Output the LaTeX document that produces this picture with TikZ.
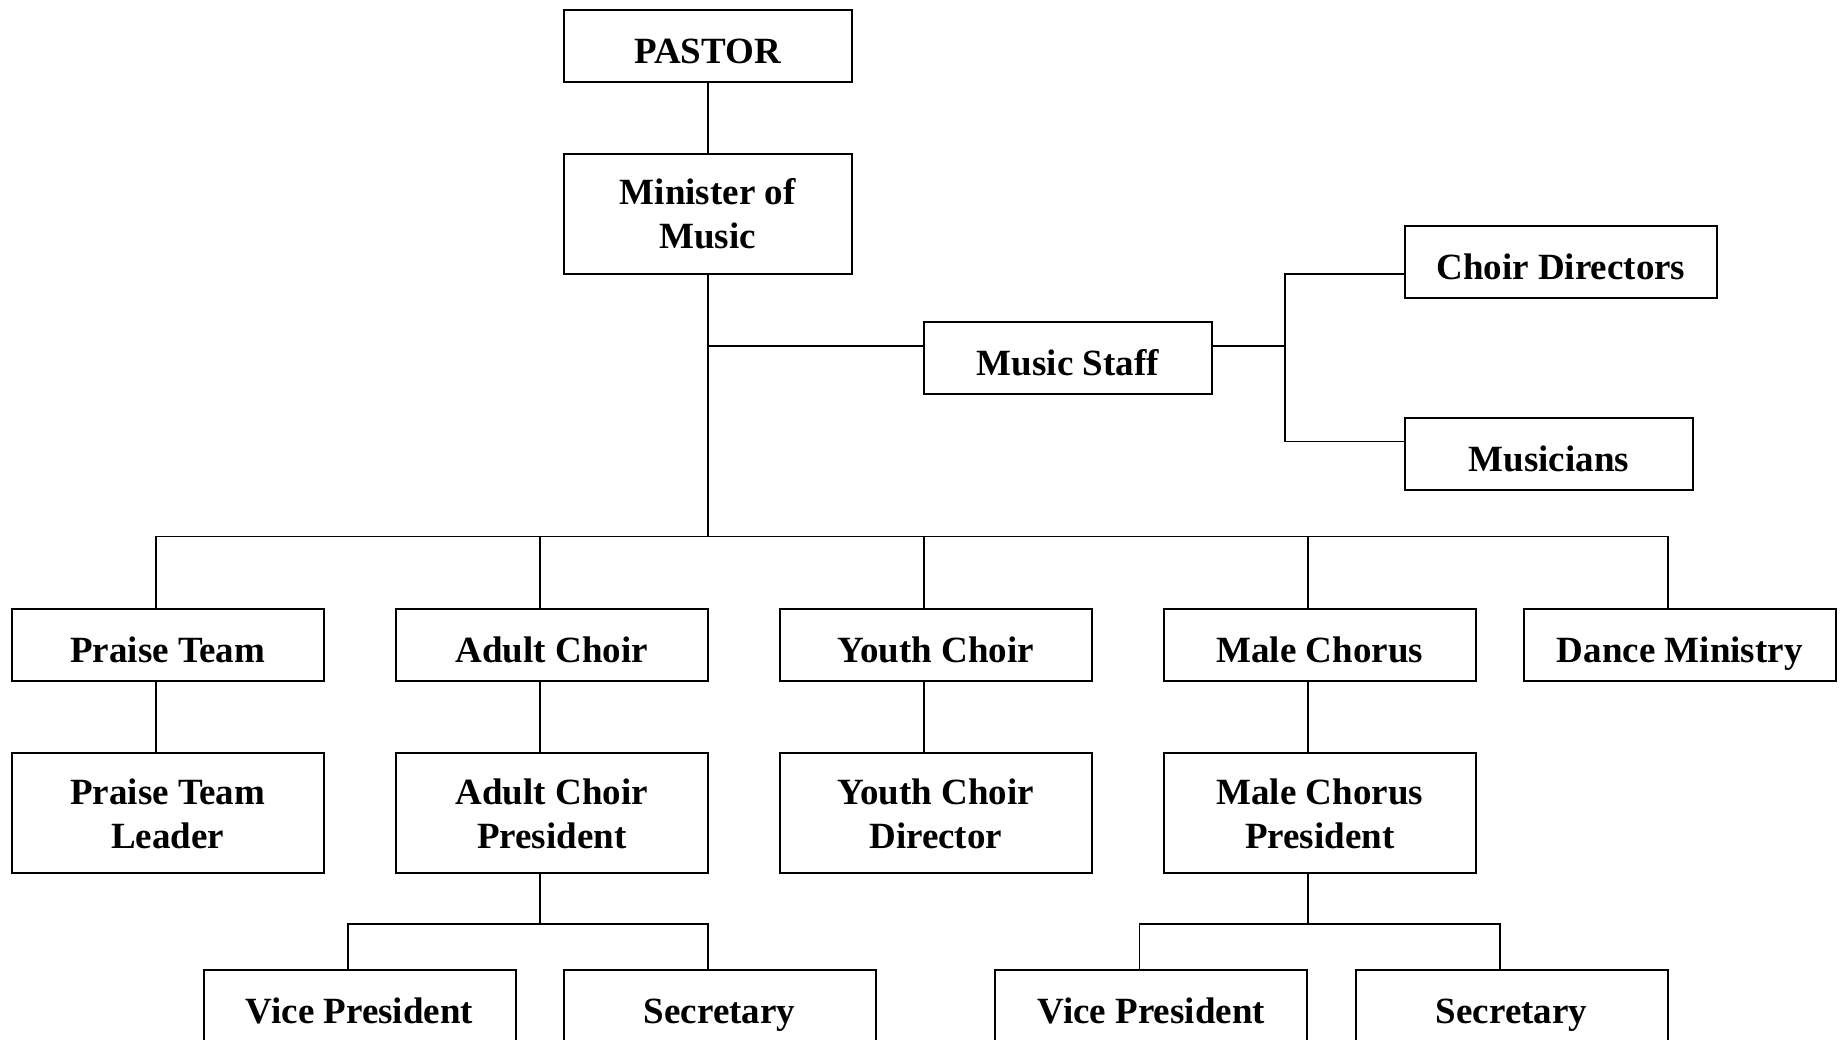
\documentclass[tikz,border=0pt]{standalone}
\usepackage{fontspec}
\setmainfont{Liberation Serif}
\usetikzlibrary{
  calc,
  positioning
}
\tikzset{
  node distance = 35pt,
  unit/.style = {draw, line width=1pt, align=center, inner sep=0pt,
    minimum width=156pt, minimum height=36pt,
    font=\fontsize{18.5pt}{22pt}\selectfont\bfseries},
  one/.style = {unit, text height=19pt, text depth=1.5pt},
  two/.style = {unit, minimum height=60pt},
  narrow/.style = {minimum width=144pt},
  link/.style = {line width=0.8pt},
}

\begin{document}
\begin{tikzpicture}[x=0.5pt, y=-0.5pt]
  \path[use as bounding box, clip] (0,0) rectangle (1845,1039);

  \node[one, narrow] (pastor) at (707.7,46) {PASTOR};
  \node[two, narrow, below=of pastor] (minister) {Minister of\\Music};
  \node[one, narrow] (staff) at (1067.9,357.7) {Music Staff};
  \node[one, anchor=west] (directors) at (1403.8,261.8) {Choir Directors};
  \node[one, narrow, anchor=west] (musicians) at (1403.8,453.6) {Musicians};

  \node[one] (praise) at (167.7,645.4) {Praise Team};
  \node[one, right=of praise] (adult) {Adult Choir};
  \node[one, right=of adult] (youth) {Youth Choir};
  \node[one, right=of youth] (male) {Male Chorus};
  \node[one, right=23pt of male] (dance) {Dance Ministry};

  \node[two, below=of praise] (praiselead) {Praise Team\\Leader};
  \node[two, below=of adult] (adultpres) {Adult Choir\\President};
  \node[two, below=of youth] (youthdir) {Youth Choir\\Director};
  \node[two, below=of male] (malepres) {Male Chorus\\President};

  \node[one] (lvp) at (359.5,1005.6) {Vice President};
  \node[one] (lsec) at (719.6,1005.6) {Secretary};
  \node[one] (rvp) at (1151.4,1005.6) {Vice President};
  \node[one] (rsec) at (1511.5,1005.6) {Secretary};

  \draw[link] (pastor) -- (minister);
  \coordinate (bus) at ($(minister.south |- youth.north) + (0,36pt)$);
  \draw[link] (minister.south) -- (bus);
  \foreach \n in {praise, adult, youth, male, dance}
    \draw[link] ([xshift=-5.9pt]\n.north) |- (bus);

  \coordinate (staffin) at ([yshift=5.9pt]staff.west);
  \draw[link] (staffin) -- (staffin -| minister.south);
  \coordinate (fork) at ([xshift=36pt, yshift=5.9pt]staff.east);
  \draw[link] ([yshift=5.9pt]staff.east) -- (fork);
  \draw[link] ([yshift=-6.2pt]directors.west) -| (fork)
    |- ([yshift=6.1pt]musicians.west);

  \foreach \a/\b in {praise/praiselead, adult/adultpres, youth/youthdir, male/malepres}
    \draw[link] ([xshift=-5.9pt]\a.south) -- ([xshift=-5.9pt]\b.north);

  \coordinate (lbar) at ([xshift=-5.9pt, yshift=-24.7pt]adultpres.south);
  \draw[link] ([xshift=-5.9pt]adultpres.south) -- (lbar);
  \draw[link] ([xshift=-5.9pt]lvp.north) |- (lbar) -| ([xshift=-5.9pt]lsec.north);
  \coordinate (rbar) at ([xshift=-5.9pt, yshift=-24.7pt]malepres.south);
  \draw[link] ([xshift=-5.9pt]malepres.south) -- (rbar);
  \draw[link] ([xshift=-5.9pt]rvp.north) |- (rbar) -| ([xshift=-5.9pt]rsec.north);
\end{tikzpicture}
\end{document}
